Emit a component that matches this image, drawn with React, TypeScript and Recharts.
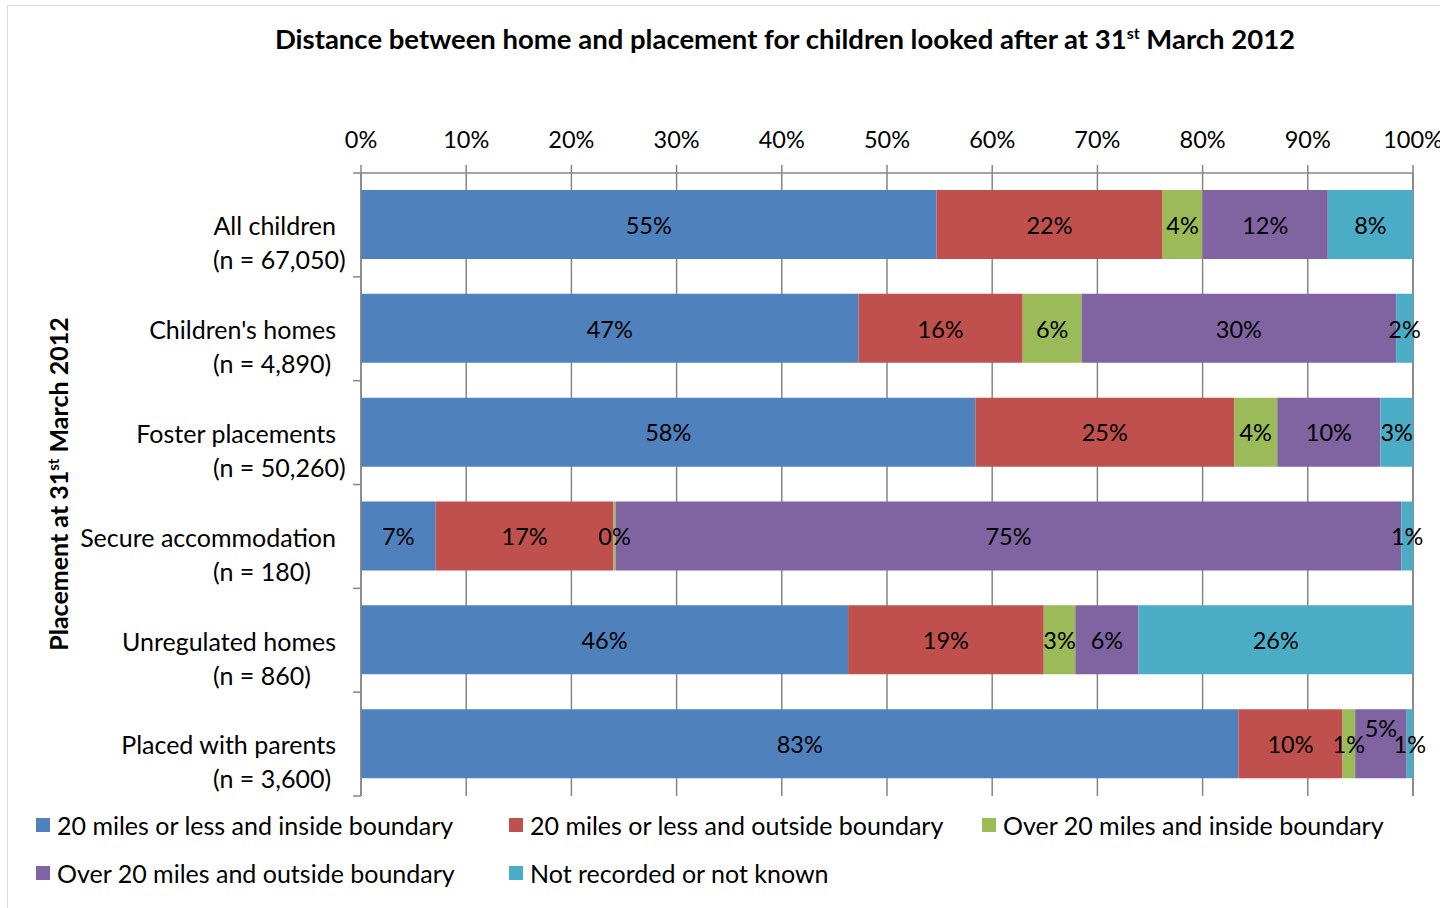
import React from 'react';
import { BarChart, Bar, XAxis, YAxis, CartesianGrid, LabelList } from 'recharts';

// categories (two-line labels in the original chart)
const categories = [
  'All children',
  "Children's homes",
  'Foster placements',
  'Secure accommodation',
  'Unregulated homes',
  'Placed with parents',
];
const counts = ['(n = 67,050)', '(n = 4,890)', '(n = 50,260)', '(n = 180)', '(n = 860)', '(n = 3,600)'];

// percentages per placement type
const within20Inside = [54.7, 47.3, 58.4, 7.1, 46.3, 83.4];
const within20Outside = [21.5, 15.6, 24.6, 16.9, 18.6, 9.9];
const over20Inside = [3.8, 5.6, 4.1, 0.2, 3.0, 1.2];
const over20Outside = [11.9, 29.9, 9.8, 74.7, 6.0, 4.9];
const notKnown = [8.1, 1.6, 3.1, 1.1, 26.1, 0.6];

const xTicks = [0, 10, 20, 30, 40, 50, 60, 70, 80, 90, 100];

const seriesNames = [
  '20 miles or less and inside boundary',
  '20 miles or less and outside boundary',
  'Over 20 miles and inside boundary',
  'Over 20 miles and outside boundary',
  'Not recorded or not known',
];

const series = [
  { key: 'within20Inside', name: seriesNames[0], color: '#4F81BD' },
  { key: 'within20Outside', name: seriesNames[1], color: '#C0504D' },
  { key: 'over20Inside', name: seriesNames[2], color: '#9BBB59' },
  { key: 'over20Outside', name: seriesNames[3], color: '#8064A2' },
  { key: 'notKnown', name: seriesNames[4], color: '#4BACC6' },
];

const data = categories.map((name, i) => ({
  name,
  count: counts[i],
  within20Inside: within20Inside[i],
  within20Outside: within20Outside[i],
  over20Inside: over20Inside[i],
  over20Outside: over20Outside[i],
  notKnown: notKnown[i],
}));

const FONT = 'Lato, "Open Sans", sans-serif';
const GRID = '#868686';

const CHART_W = 1560;
const CHART_H = 920;
const MARGIN = { top: 127, right: 155, bottom: 130, left: 53 };
const X_AXIS_H = 40;
const Y_AXIS_W = 300;
const PLOT_H = CHART_H - MARGIN.top - MARGIN.bottom - X_AXIS_H;
const BAND_HALF = PLOT_H / categories.length / 2;

const CategoryTick = (props: any) => {
  const { x, y, payload, index } = props;
  const half = payload && payload.offset ? payload.offset : BAND_HALF;
  const isLast = index === categories.length - 1;
  return (
    <g>
      <line x1={x - 8} x2={x} y1={y - half} y2={y - half} stroke={GRID} strokeWidth={1.5} />
      {isLast && <line x1={x - 8} x2={x} y1={y + half} y2={y + half} stroke={GRID} strokeWidth={1.5} />}
      <text x={x - 25} y={y + 1.5} dy="0.35em" textAnchor="end" fontFamily={FONT} fontSize={25} fill="#000">
        {payload.value}
      </text>
      <text x={x - 148} y={y + 35.5} dy="0.35em" textAnchor="start" fontFamily={FONT} fontSize={25} fill="#000">
        {counts[index]}
      </text>
    </g>
  );
};

const makeLabel = (seriesIdx: number) => (props: any) => {
  const { x, y, width, height, value, index } = props;
  // Excel nudged this one label up to avoid overlapping its neighbours
  const lift = seriesIdx === 3 && index === 5 ? -16 : 0;
  return (
    <text
      x={x + width / 2}
      y={y + height / 2 + lift + 1}
      dy="0.35em"
      textAnchor="middle"
      fontFamily={FONT}
      fontSize={23.5}
      fill="#000"
    >
      {Math.round(value)}%
    </text>
  );
};

const App: React.FC = () => {
  return (
    <div style={{ position: 'fixed', left: 0, top: 0, width: 1440, height: 908, overflow: 'hidden', background: '#fff' }}>
      <div
        style={{
          position: 'absolute',
          left: 8,
          top: 6,
          width: CHART_W,
          height: CHART_H,
          outline: '1px solid #d9d9d9',
          fontFamily: FONT,
        }}
      >
        <div
          style={{
            position: 'absolute',
            left: 0,
            width: 1554,
            top: 16,
            textAlign: 'center',
            fontWeight: 700,
            fontSize: 27.5,
            lineHeight: '34px',
            color: '#000',
          }}
        >
          Distance between home and placement for children looked after at 31<sup style={{ fontSize: 16, lineHeight: 0 }}>st</sup> March 2012
        </div>
        <div
          style={{
            position: 'absolute',
            left: 50,
            top: 478,
            width: 0,
            height: 0,
          }}
        >
          <div
            style={{
              position: 'absolute',
              transform: 'translate(-50%, -50%) rotate(-90deg)',
              whiteSpace: 'nowrap',
              fontWeight: 700,
              fontSize: 25,
              lineHeight: '32px',
              color: '#000',
            }}
          >
            Placement at 31<sup style={{ fontSize: 15, lineHeight: 0 }}>st</sup> March 2012
          </div>
        </div>

        <BarChart width={CHART_W} height={CHART_H} data={data} layout="vertical" margin={MARGIN} barSize={69}>
          <CartesianGrid horizontal={false} vertical={true} stroke={GRID} strokeWidth={1.5} />
          <XAxis
            type="number"
            orientation="top"
            domain={[0, 100]}
            ticks={xTicks}
            tickFormatter={(v: number) => `${v}%`}
            height={X_AXIS_H}
            stroke={GRID}
            strokeWidth={1.5}
            tickSize={8}
            tickMargin={17}
            tick={{ fill: '#000', fontSize: 23.5, fontFamily: FONT }}
            interval={0}
          />
          <YAxis
            type="category"
            dataKey="name"
            width={Y_AXIS_W}
            stroke={GRID}
            strokeWidth={1.5}
            tickLine={false}
            tickSize={0}
            tickMargin={0}
            tick={<CategoryTick />}
            interval={0}
          />
          {series.map((s, i) => (
            <Bar key={s.key} dataKey={s.key} name={s.name} stackId="a" fill={s.color} isAnimationActive={false}>
              <LabelList dataKey={s.key} content={makeLabel(i)} />
            </Bar>
          ))}
        </BarChart>

        <div
          style={{
            position: 'absolute',
            left: 28,
            top: 803,
            width: 1430,
            display: 'flex',
            flexWrap: 'wrap',
            rowGap: 16,
            fontSize: 25,
            lineHeight: '32px',
            color: '#000',
          }}
        >
          {series.map((s) => (
            <div key={s.key} style={{ width: 473, display: 'flex', alignItems: 'center' }}>
              <span style={{ display: 'inline-block', width: 14, height: 14, background: s.color, marginRight: 7 }} />
              <span>{s.name}</span>
            </div>
          ))}
        </div>
      </div>
    </div>
  );
};

export default App;
